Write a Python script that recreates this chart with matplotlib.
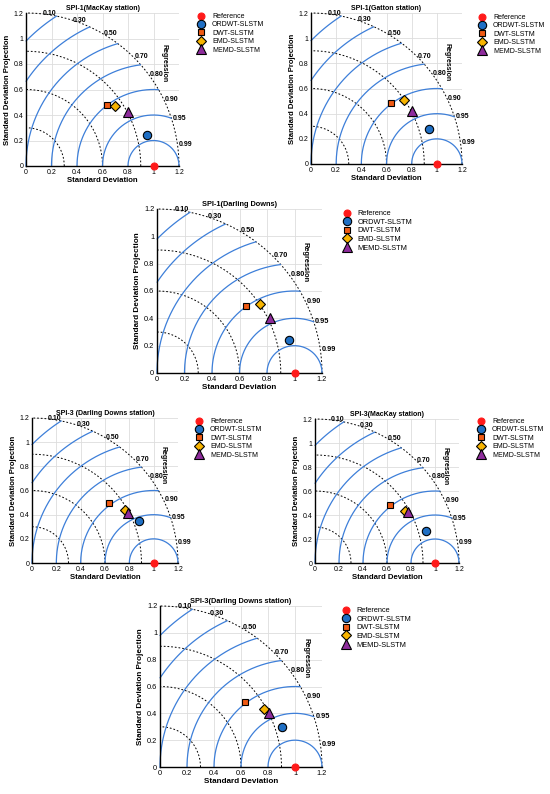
import numpy as np
import matplotlib
matplotlib.use("Agg")
import matplotlib.pyplot as plt

plt.rcParams["font.family"] = ["Liberation Sans", "DejaVu Sans"]

W, H = 550, 794

# --- data (x = std * corr, y = std projection) ---
models = ["Reference", "ORDWT-SLSTM", "DWT-SLSTM", "EMD-SLSTM", "MEMD-SLSTM"]

spi1_mackay_x = [1.0, 0.949, 0.638, 0.695, 0.80]
spi1_mackay_y = [0.0, 0.240, 0.481, 0.468, 0.42]

spi1_gatton_x = [1.0, 0.937, 0.638, 0.741, 0.805]
spi1_gatton_y = [0.0, 0.275, 0.482, 0.506, 0.42]

spi1_darling_x = [1.0, 0.963, 0.647, 0.747, 0.822]
spi1_darling_y = [0.0, 0.239, 0.488, 0.505, 0.40]

spi3_darling_x = [1.0, 0.882, 0.630, 0.764, 0.79]
spi3_darling_y = [0.0, 0.350, 0.494, 0.436, 0.414]

spi3_mackay_x = [1.0, 0.928, 0.626, 0.750, 0.778]
spi3_mackay_y = [0.0, 0.270, 0.487, 0.435, 0.426]

spi3_darling2_x = [1.0, 0.903, 0.626, 0.767, 0.81]
spi3_darling2_y = [0.0, 0.298, 0.486, 0.434, 0.40]

corr_levels = [0.10, 0.30, 0.50, 0.70, 0.80, 0.90, 0.95, 0.99]
std_radii = [0.3, 0.6, 0.9, 1.2]
rms_radii = [0.2, 0.4, 0.6, 0.8, 1.0, 1.2, 1.4]
ticks = [0, 0.2, 0.4, 0.6, 0.8, 1.0, 1.2]
tick_labels = ["0", "0.2", "0.4", "0.6", "0.8", "1", "1.2"]

# marker styles per model
styles = [
    dict(marker="o", color="#ff1a1a", mec="#ff1a1a", ms=5.0),
    dict(marker="o", color="#1f6fc4", mec="black", ms=6.0),
    dict(marker="s", color="#f05a14", mec="black", ms=5.0),
    dict(marker="D", color="#f7b400", mec="black", ms=5.0),
    dict(marker="^", color="#8e2c9c", mec="black", ms=6.5),
]

BLUE = "#3d7fd9"
RMAX = 1.2


def px_axes(fig, left, right, top, bottom):
    return fig.add_axes([left / W, 1 - bottom / H, (right - left) / W, (bottom - top) / H])


def draw_taylor(ax, title, xs, ys, leg_xy, fs=5.0):
    ax.set_xlim(0, RMAX)
    ax.set_ylim(0, RMAX)
    ax.set_xticks(ticks)
    ax.set_yticks(ticks)
    ax.set_xticklabels(tick_labels, fontsize=fs)
    ax.set_yticklabels(tick_labels, fontsize=fs)
    ax.tick_params(length=0, pad=2)
    ax.grid(True, color="#dddddd", lw=0.6)
    ax.set_axisbelow(True)
    for s in ["top", "right"]:
        ax.spines[s].set_visible(False)
    ax.spines["left"].set_linewidth(1.0)
    ax.spines["bottom"].set_linewidth(1.0)

    # std dev arcs around origin
    t = np.linspace(0, np.pi / 2, 200)
    for r in std_radii:
        ax.plot(r * np.cos(t), r * np.sin(t), color="black", lw=0.7,
                ls=(0, (1.8, 2)), zorder=2, clip_on=False)

    # centred RMS arcs around the reference point
    t = np.linspace(0, np.pi, 600)
    for r in rms_radii:
        x = 1 + r * np.cos(t)
        y = r * np.sin(t)
        keep = (x ** 2 + y ** 2 <= RMAX ** 2 + 1e-9) & (x >= -1e-9)
        ax.plot(x[keep], y[keep], color=BLUE, lw=0.9, zorder=2, clip_on=False)

    # correlation labels
    for c in corr_levels:
        a = np.arccos(c)
        ax.text(RMAX * np.cos(a) + 0.01, RMAX * np.sin(a), f"{c:.2f}",
                fontsize=fs, fontweight="bold", ha="left", va="center", zorder=4)
    ax.text(1.08, 0.81, "Regression", rotation=-90, fontsize=fs,
            fontweight="bold", ha="center", va="center")

    handles = []
    for name, x, y, st in zip(models, xs, ys, styles):
        h, = ax.plot([x], [y], ls="none", marker=st["marker"], mfc=st["color"],
                     mec=st["mec"], ms=st["ms"], mew=0.8, label=name,
                     zorder=5, clip_on=False)
        handles.append(h)

    ax.legend(handles=handles, loc="upper left",
              bbox_to_anchor=(leg_xy[0] / W, 1 - leg_xy[1] / H),
              bbox_transform=ax.figure.transFigure, frameon=False,
              fontsize=fs, handlelength=1.0, handletextpad=1.0,
              labelspacing=0.2, borderpad=0, borderaxespad=0, numpoints=1)

    ax.set_title(title, fontsize=fs, fontweight="bold", pad=2)
    ax.set_xlabel("Standard Deviation", fontsize=fs + 0.6, fontweight="bold", labelpad=1)
    ax.set_ylabel("Standard Deviation Projection", fontsize=fs + 0.6,
                  fontweight="bold", labelpad=2)


fig = plt.figure(figsize=(W / 100, H / 100), dpi=100)

draw_taylor(px_axes(fig, 26, 179, 13, 166), "SPI-1(MacKay station)",
            spi1_mackay_x, spi1_mackay_y, (198, 13))
draw_taylor(px_axes(fig, 311, 462, 13, 164), "SPI-1(Gatton station)",
            spi1_gatton_x, spi1_gatton_y, (479, 14))
draw_taylor(px_axes(fig, 157, 322, 209, 373), "SPI-1(Darling Downs)",
            spi1_darling_x, spi1_darling_y, (343, 210), fs=5.3)
draw_taylor(px_axes(fig, 32, 178, 418, 563), "SPI-3 (Darling Downs station)",
            spi3_darling_x, spi3_darling_y, (196, 418))
draw_taylor(px_axes(fig, 315, 459, 419, 563), "SPI-3(MacKay station)",
            spi3_mackay_x, spi3_mackay_y, (478, 418))
draw_taylor(px_axes(fig, 160, 322, 606, 767), "SPI-3(Darling Downs station)",
            spi3_darling2_x, spi3_darling2_y, (342, 607), fs=5.3)

fig.savefig("out.png", dpi=100)
